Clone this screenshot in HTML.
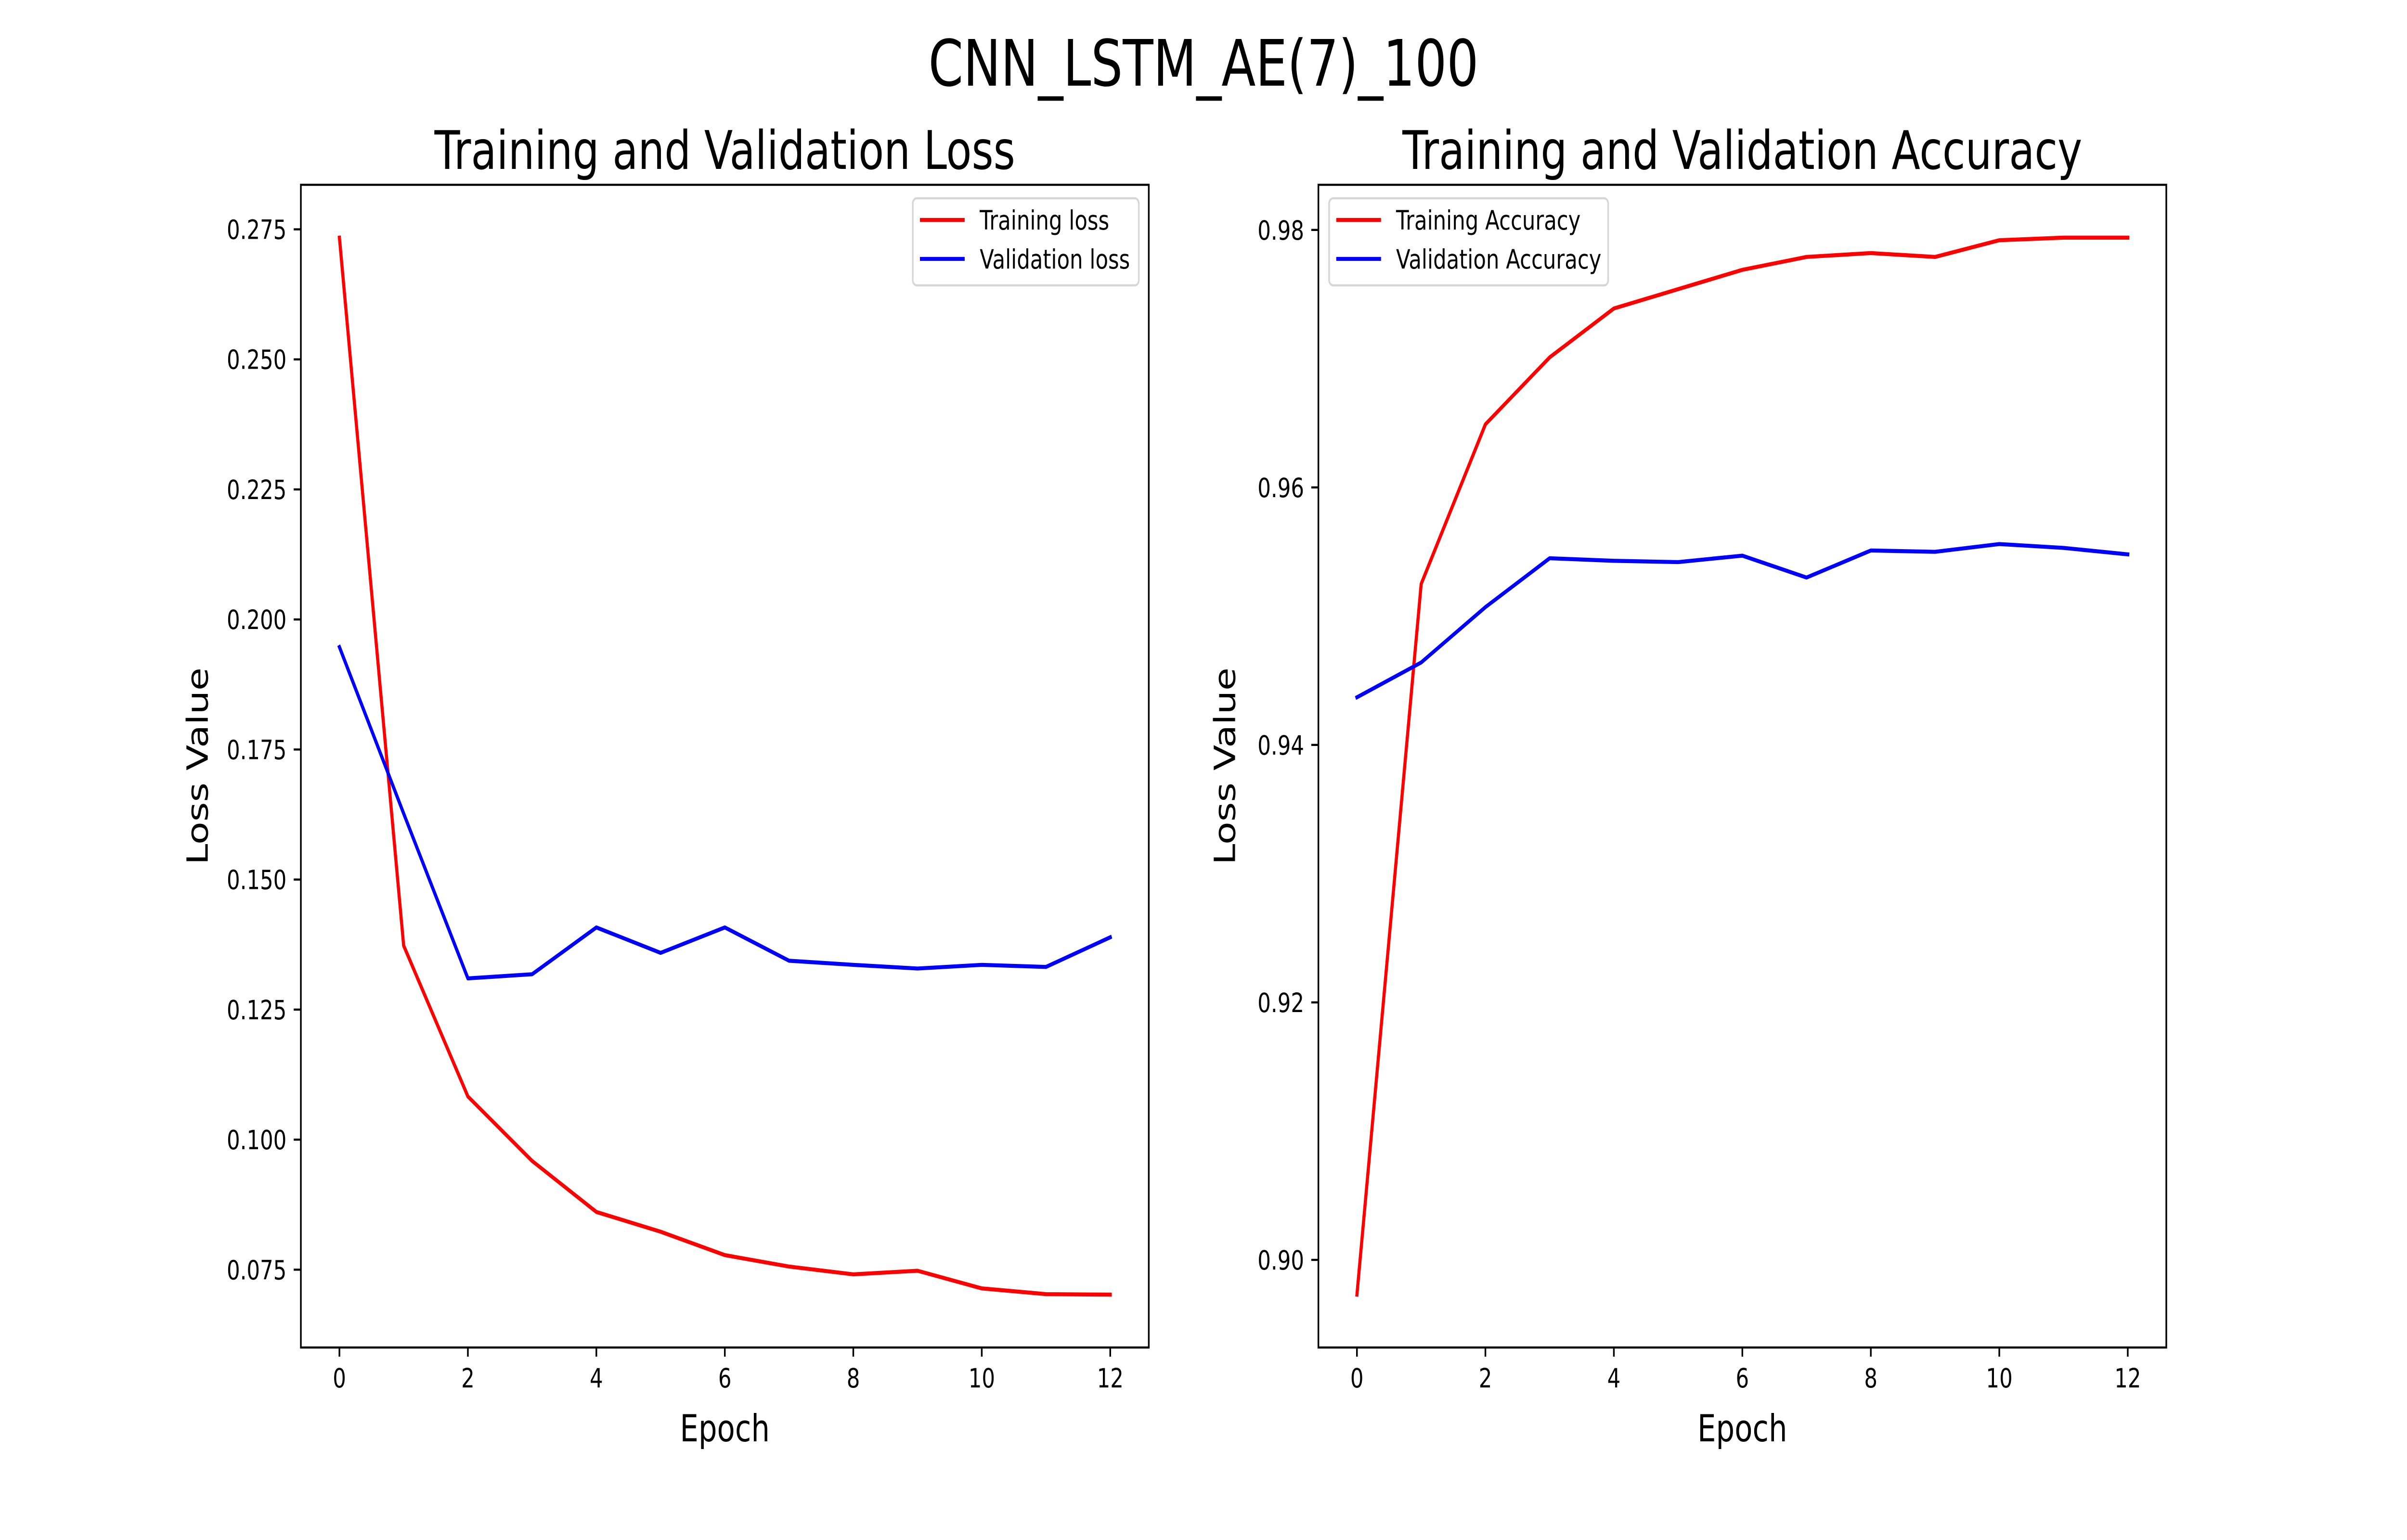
<!DOCTYPE html>
<html><head><meta charset="utf-8"><style>
html,body{margin:0;padding:0;background:#fff;overflow:hidden;width:100%;height:100%}
svg{display:block;font-family:"DejaVu Sans","Liberation Sans",sans-serif;width:100vw;height:100vh}
</style></head><body>
<svg id="fig" xmlns="http://www.w3.org/2000/svg" viewBox="0 0 6400 3200" preserveAspectRatio="none">
<rect width="6400" height="3200" fill="#fff"/>
<text x="3200" y="178" font-size="133" text-anchor="middle">CNN_LSTM_AE(7)_100</text>
</svg>
<script>
const epochs = [0,1,2,3,4,5,6,7,8,9,10,11,12];
const trainLoss = [0.2734,0.1373,0.1083,0.0959,0.0861,0.0823,0.0778,0.0756,0.0741,0.0748,0.0714,0.0703,0.0702];
const valLoss = [0.1947,0.1627,0.1310,0.1318,0.1408,0.1359,0.1408,0.1344,0.1336,0.1329,0.1336,0.1332,0.1389];
const trainAcc = [0.8973,0.9525,0.9649,0.9701,0.9739,0.9754,0.9769,0.9779,0.9782,0.9779,0.9792,0.9794,0.9794];
const valAcc = [0.9437,0.9464,0.9507,0.9545,0.9543,0.9542,0.9547,0.9530,0.9551,0.9550,0.9556,0.9553,0.9548];
const xTicks = [0,2,4,6,8,10,12];
const lossTicks = [0.075,0.100,0.125,0.150,0.175,0.200,0.225,0.250,0.275];
const accTicks = [0.90,0.92,0.94,0.96,0.98];

const NS="http://www.w3.org/2000/svg";
const svg=document.getElementById('fig');
function mk(tag,attrs,parent){const e=document.createElementNS(NS,tag);for(const k in attrs)e.setAttribute(k,attrs[k]);(parent||svg).appendChild(e);return e;}

function panel(opt){
  const L=opt.left,R=opt.left+2254.5,T=384,B=2800;
  const g=mk('g',{});
  
  
  const xmin=-0.6,xmax=12.6;
  const allY=opt.series.flatMap(s=>s.data);
  const dmin=Math.min(...allY),dmax=Math.max(...allY),m=(dmax-dmin)*0.05;
  const ymin=dmin-m,ymax=dmax+m;
  const sx=v=>L+(v-xmin)/(xmax-xmin)*(R-L);
  const sy=v=>B-(v-ymin)/(ymax-ymin)*(B-T);
  const t=mk('text',{x:(L+R)/2,y:351,'font-size':111,'text-anchor':'middle'},g);
  t.textContent=opt.title;
  
  
  opt.series.forEach(s=>{
    const pts=epochs.map((e,i)=>sx(e).toFixed(1)+','+sy(s.data[i]).toFixed(1)).join(' ');
    const pl=mk('polyline',{points:pts,fill:'none',stroke:s.color,'stroke-width':8.3,'stroke-linejoin':'round','stroke-linecap':'square'},g);
    
    
  });
  const sp=mk('rect',{x:L,y:T,width:R-L,height:B-T,fill:'none',stroke:'#000','stroke-width':4.4},g);
  
  
  xTicks.forEach(v=>{
    const x=sx(v);
    mk('line',{x1:x,y1:B,x2:x,y2:B+19,stroke:'#000','stroke-width':4.4},g);
    const tl=mk('text',{x:x,y:2883,'font-size':55.6,'text-anchor':'middle'},g);
    tl.textContent=v;
    
    
  });
  opt.yTicks.forEach(v=>{
    const y=sy(v);
    mk('line',{x1:L,y1:y,x2:L-19,y2:y,stroke:'#000','stroke-width':4.4},g);
    const tl=mk('text',{x:L-38,y:y+20,'font-size':55.6,'text-anchor':'end'},g);
    tl.textContent=v.toFixed(opt.dec);
    
    
  });
  const xl=mk('text',{x:(L+R)/2,y:2995,'font-size':78,'text-anchor':'middle'},g);
  xl.textContent='Epoch';
  
  
  const yl=mk('text',{x:0,y:0,'font-size':78,'text-anchor':'middle',transform:`translate(${opt.ylabX},${(T+B)/2}) rotate(-90)`},g);
  yl.textContent='Loss Value';
  
  
  const lg=mk('g',{},g);
  
  
  mk('rect',{x:opt.lg.x,y:412,width:opt.lg.w,height:181,rx:11,fill:'#fff','fill-opacity':0.8,stroke:'#d6d6d6','stroke-width':4.4},lg);
  opt.series.forEach((s,i)=>{
    const y=457+i*81;
    mk('line',{x1:opt.lg.x+19,y1:y,x2:opt.lg.x+138,y2:y,stroke:s.color,'stroke-width':8.3},lg);
    const tx=mk('text',{x:opt.lg.x+178,y:y+20,'font-size':55.6},lg);
    tx.textContent=s.label;
    
    
  });
}
panel({name:'loss-chart',left:800,title:'Training and Validation Loss',yTicks:lossTicks,dec:3,ylabX:552,
  lg:{x:2427,w:601},
  series:[{key:'training-loss',data:trainLoss,color:'#ff0000',label:'Training loss'},{key:'validation-loss',data:valLoss,color:'#0000ff',label:'Validation loss'}]});
panel({name:'accuracy-chart',left:3505.5,title:'Training and Validation Accuracy',yTicks:accTicks,dec:2,ylabX:3284,
  lg:{x:3534,w:742},
  series:[{key:'training-accuracy',data:trainAcc,color:'#ff0000',label:'Training Accuracy'},{key:'validation-accuracy',data:valAcc,color:'#0000ff',label:'Validation Accuracy'}]});
</script>
</body></html>
